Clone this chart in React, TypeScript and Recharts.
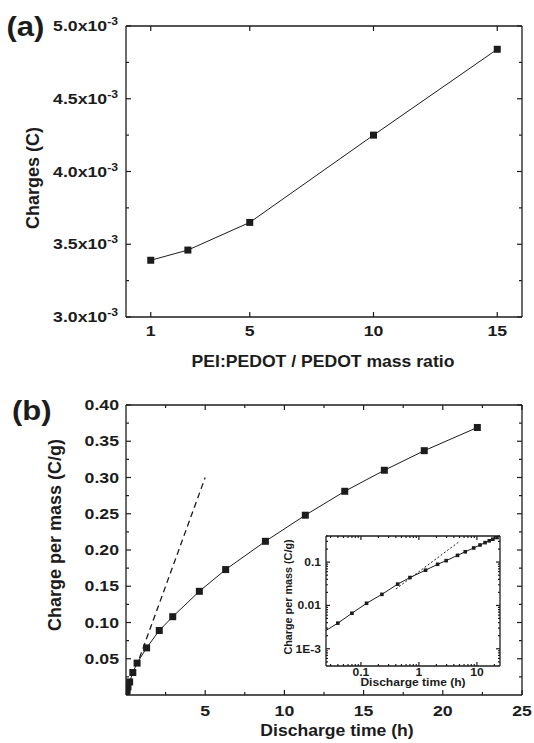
import React from 'react';
import { LineChart, Line, XAxis, YAxis } from 'recharts';

// ---------- data ----------
const ratioA = [1, 2.5, 5, 10, 15];
const chargeA = [3.39e-3, 3.46e-3, 3.65e-3, 4.25e-3, 4.84e-3];

const timeB = [0.04, 0.07, 0.125, 0.23, 0.43, 0.7, 1.3, 2.1, 2.95, 4.63, 6.29, 8.8, 11.32, 13.81, 16.31, 18.83, 22.18];
const chargeB = [0.0039, 0.0066, 0.0112, 0.018, 0.031, 0.044, 0.065, 0.089, 0.108, 0.143, 0.173, 0.212, 0.248, 0.281, 0.31, 0.337, 0.369];

const slopeT = [0.85, 5.0];
const slopeQ = [0.051, 0.3];

const insetSlopeT = [0.4, 5.0];
const insetSlopeQ = [0.024, 0.3];
const insetLeadT = [0.025, 0.04];
const insetLeadQ = [0.00265, 0.0039];

const ticksAX = [1, 5, 10, 15];
const ticksAYMajor = [3.0e-3, 3.5e-3, 4.0e-3, 4.5e-3, 5.0e-3];
const ticksAYMinor = [3.25e-3, 3.75e-3, 4.25e-3, 4.75e-3];

const ticksBXMajor = [5, 10, 15, 20, 25];
const ticksBXMinor = [2.5, 7.5, 12.5, 17.5, 22.5];
const ticksBYMajor = [0.05, 0.1, 0.15, 0.2, 0.25, 0.3, 0.35, 0.4];
const ticksBYMinor = [0.025, 0.075, 0.125, 0.175, 0.225, 0.275, 0.325, 0.375];

const ticksIXMajor = [0.1, 1, 10];
const ticksIXMinor = [0.03, 0.04, 0.05, 0.06, 0.07, 0.08, 0.09, 0.2, 0.3, 0.4, 0.5, 0.6, 0.7, 0.8, 0.9, 2, 3, 4, 5, 6, 7, 8, 9, 20];
const ticksIYMajor = [0.001, 0.01, 0.1];
const ticksIYMinor = [0.0005, 0.0006, 0.0007, 0.0008, 0.0009, 0.002, 0.003, 0.004, 0.005, 0.006, 0.007, 0.008, 0.009, 0.02, 0.03, 0.04, 0.05, 0.06, 0.07, 0.08, 0.09, 0.2, 0.3, 0.4];

const seriesA = ratioA.map((x, i) => ({ x, q: chargeA[i] }));
const seriesB = timeB.map((x, i) => ({ x, q: chargeB[i] }));
const slopeB = slopeT.map((x, i) => ({ x, q: slopeQ[i] }));
const insetSlope = insetSlopeT.map((x, i) => ({ x, q: insetSlopeQ[i] }));
const insetLead = insetLeadT.map((x, i) => ({ x, q: insetLeadQ[i] }));

// ---------- styling helpers ----------
const FONT = "'Liberation Sans', Arial, Helvetica, sans-serif";
const INK = '#1c1c1c';

const near = (a: number, b: number) => Math.abs(a - b) <= Math.max(Math.abs(a), Math.abs(b)) * 1e-6 + 1e-15;
const merge = (a: number[], b: number[]) => [...a, ...b].sort((p, q) => p - q);

type Side = 'bottom' | 'top' | 'left' | 'right';
interface TickOpts {
  side: Side;
  majors: number[];
  major: number;
  minor: number;
  label?: (v: number) => React.ReactNode;
  size?: number;
  sx?: number;
  gap?: number;
}

function makeTick(o: TickOpts) {
  return (props: any) => {
    const { x, y, payload } = props;
    const v = Number(payload.value);
    const isMajor = o.majors.some((m) => near(m, v));
    const L = isMajor ? o.major : o.minor;
    let x2 = x;
    let y2 = y;
    if (o.side === 'bottom') y2 = y - L;
    else if (o.side === 'top') y2 = y + L;
    else if (o.side === 'left') x2 = x + L;
    else x2 = x - L;
    let text: React.ReactNode = null;
    if (isMajor && o.label) {
      const s = o.size ?? 14;
      const sx = o.sx ?? 1;
      const gap = o.gap ?? 6;
      if (o.side === 'bottom') {
        text = (
          <text transform={`translate(${x},${y + gap}) scale(${sx},1)`} textAnchor="middle" fontSize={s} fontWeight="bold" fontFamily={FONT} fill={INK}>
            {o.label(v)}
          </text>
        );
      } else if (o.side === 'left') {
        text = (
          <text transform={`translate(${x - gap},${y + s * 0.36}) scale(${sx},1)`} textAnchor="end" fontSize={s} fontWeight="bold" fontFamily={FONT} fill={INK}>
            {o.label(v)}
          </text>
        );
      }
    }
    return (
      <g>
        <line x1={x} y1={y} x2={x2} y2={y2} stroke={INK} strokeWidth={1.2} />
        {text}
      </g>
    );
  };
}

const square = (s: number) => (p: any) => (
  <rect key={`sq-${s}-${p.index}`} x={p.cx - s / 2} y={p.cy - s / 2} width={s} height={s} fill={INK} />
);

const axisBase = {
  type: 'number' as const,
  dataKey: 'x',
  tickLine: false,
  tickSize: 0,
  tickMargin: 0,
  interval: 0 as const,
  allowDataOverflow: true,
  axisLine: { stroke: INK, strokeWidth: 1.3 },
};

const ST = ({ x, y, size, sx = 1, anchor = 'middle', rotate = 0, children }: any) => (
  <text
    transform={`translate(${x},${y})${rotate ? ` rotate(${rotate})` : ''} scale(${sx},1)`}
    textAnchor={anchor}
    fontSize={size}
    fontWeight="bold"
    fontFamily={FONT}
    fill={INK}
  >
    {children}
  </text>
);

const TS = 14.5; // tick font size
const TSX = 1.22; // tick horizontal stretch

const fmtA = (v: number) => (
  <>
    {(v * 1000).toFixed(1)}x10
    <tspan dy={-6} fontSize={10}>-3</tspan>
  </>
);
const fmtB = (v: number) => v.toFixed(2);
const fmtBX = (v: number) => String(v);
const fmtIY = (v: number) => (near(v, 0.001) ? '1E-3' : String(v));
const fmtIX = (v: number) => String(v);

export default function App() {
  return (
    <div style={{ position: 'absolute', left: 0, top: 0, width: 534, height: 743, background: '#fff', overflow: 'hidden' }}>
      {/* Chart (a) */}
      <div style={{ position: 'absolute', left: 0, top: 0 }}>
        <LineChart width={534} height={370} margin={{ top: 25, right: 11, bottom: 0, left: 0 }}>
          <XAxis
            {...axisBase}
            xAxisId="b"
            orientation="bottom"
            height={53}
            domain={[0, 16]}
            ticks={ticksAX}
            tick={makeTick({ side: 'bottom', majors: ticksAX, major: 5, minor: 3, label: fmtBX, size: TS, sx: TSX, gap: 19 })}
          />
          <XAxis
            {...axisBase}
            xAxisId="t"
            orientation="top"
            height={1}
            domain={[0, 16]}
            ticks={ticksAX}
            tick={makeTick({ side: 'top', majors: ticksAX, major: 5, minor: 3 })}
          />
          <YAxis
            {...axisBase}
            dataKey={undefined}
            yAxisId="l"
            orientation="left"
            width={126}
            domain={[3.0e-3, 5.0e-3]}
            ticks={merge(ticksAYMajor, ticksAYMinor)}
            tick={makeTick({ side: 'left', majors: ticksAYMajor, major: 5, minor: 3, label: fmtA, size: TS, sx: TSX, gap: 8 })}
          />
          <YAxis
            {...axisBase}
            dataKey={undefined}
            yAxisId="r"
            orientation="right"
            width={1}
            domain={[3.0e-3, 5.0e-3]}
            ticks={merge(ticksAYMajor, ticksAYMinor)}
            tick={makeTick({ side: 'right', majors: ticksAYMajor, major: 5, minor: 3 })}
          />
          <Line data={seriesA} dataKey="q" xAxisId="t" yAxisId="r" stroke="none" dot={false} activeDot={false} legendType="none" isAnimationActive={false} />
          <Line
            data={seriesA}
            dataKey="q"
            xAxisId="b"
            yAxisId="l"
            stroke={INK}
            strokeWidth={1}
            dot={square(7)}
            activeDot={false}
            isAnimationActive={false}
          />
        </LineChart>
      </div>

      {/* Chart (b) */}
      <div style={{ position: 'absolute', left: 0, top: 370 }}>
        <LineChart width={534} height={373} margin={{ top: 34, right: 11, bottom: 0, left: 0 }}>
          <XAxis
            {...axisBase}
            xAxisId="b"
            orientation="bottom"
            height={48}
            domain={[0, 25]}
            ticks={merge(ticksBXMajor, ticksBXMinor)}
            tick={makeTick({ side: 'bottom', majors: ticksBXMajor, major: 5, minor: 3, label: fmtBX, size: TS, sx: TSX, gap: 21 })}
          />
          <XAxis
            {...axisBase}
            xAxisId="t"
            orientation="top"
            height={1}
            domain={[0, 25]}
            ticks={merge(ticksBXMajor, ticksBXMinor)}
            tick={makeTick({ side: 'top', majors: ticksBXMajor, major: 5, minor: 3 })}
          />
          <YAxis
            {...axisBase}
            dataKey={undefined}
            yAxisId="l"
            orientation="left"
            width={126}
            domain={[0, 0.4]}
            ticks={merge(ticksBYMajor, ticksBYMinor)}
            tick={makeTick({ side: 'left', majors: ticksBYMajor, major: 5, minor: 3, label: fmtB, size: TS, sx: TSX, gap: 7 })}
          />
          <YAxis
            {...axisBase}
            dataKey={undefined}
            yAxisId="r"
            orientation="right"
            width={1}
            domain={[0, 0.4]}
            ticks={merge(ticksBYMajor, ticksBYMinor)}
            tick={makeTick({ side: 'right', majors: ticksBYMajor, major: 5, minor: 3 })}
          />
          <Line data={seriesB} dataKey="q" xAxisId="t" yAxisId="r" stroke="none" dot={false} activeDot={false} legendType="none" isAnimationActive={false} />
          <Line
            data={slopeB}
            dataKey="q"
            xAxisId="b"
            yAxisId="l"
            stroke={INK}
            strokeWidth={1.3}
            strokeDasharray="6 4"
            dot={false}
            activeDot={false}
            isAnimationActive={false}
          />
          <Line
            data={seriesB}
            dataKey="q"
            xAxisId="b"
            yAxisId="l"
            stroke={INK}
            strokeWidth={1}
            dot={square(7)}
            activeDot={false}
            isAnimationActive={false}
          />
        </LineChart>
      </div>

      {/* Inset */}
      <div style={{ position: 'absolute', left: 270, top: 520 }}>
        <LineChart width={240} height={175} margin={{ top: 15, right: 9, bottom: 0, left: 0 }}>
          <XAxis
            {...axisBase}
            xAxisId="b"
            orientation="bottom"
            scale="log"
            height={29}
            domain={[0.025, 25]}
            ticks={merge(ticksIXMajor, ticksIXMinor)}
            tick={makeTick({ side: 'bottom', majors: ticksIXMajor, major: 4, minor: 2, label: fmtIX, size: 10.5, sx: 1.15, gap: 10 })}
          />
          <XAxis
            {...axisBase}
            xAxisId="t"
            orientation="top"
            scale="log"
            height={1}
            domain={[0.025, 25]}
            ticks={merge(ticksIXMajor, ticksIXMinor)}
            tick={makeTick({ side: 'top', majors: ticksIXMajor, major: 4, minor: 2 })}
          />
          <YAxis
            {...axisBase}
            dataKey={undefined}
            yAxisId="l"
            orientation="left"
            scale="log"
            width={56}
            domain={[0.0004, 0.4]}
            ticks={merge(ticksIYMajor, ticksIYMinor)}
            tick={makeTick({ side: 'left', majors: ticksIYMajor, major: 4, minor: 2, label: fmtIY, size: 10.5, sx: 1.15, gap: 5 })}
          />
          <YAxis
            {...axisBase}
            dataKey={undefined}
            yAxisId="r"
            orientation="right"
            scale="log"
            width={1}
            domain={[0.0004, 0.4]}
            ticks={merge(ticksIYMajor, ticksIYMinor)}
            tick={makeTick({ side: 'right', majors: ticksIYMajor, major: 4, minor: 2 })}
          />
          <Line data={seriesB} dataKey="q" xAxisId="t" yAxisId="r" stroke="none" dot={false} activeDot={false} legendType="none" isAnimationActive={false} />
          <Line
            data={insetSlope}
            dataKey="q"
            xAxisId="b"
            yAxisId="l"
            stroke={INK}
            strokeWidth={1}
            strokeDasharray="2 2"
            dot={false}
            activeDot={false}
            isAnimationActive={false}
          />
          <Line
            data={insetLead}
            dataKey="q"
            xAxisId="b"
            yAxisId="l"
            stroke={INK}
            strokeWidth={1}
            dot={false}
            activeDot={false}
            isAnimationActive={false}
          />
          <Line
            data={seriesB}
            dataKey="q"
            xAxisId="b"
            yAxisId="l"
            stroke={INK}
            strokeWidth={1}
            dot={square(3.6)}
            activeDot={false}
            isAnimationActive={false}
          />
        </LineChart>
      </div>

      {/* Titles and panel letters */}
      <svg width={534} height={743} style={{ position: 'absolute', left: 0, top: 0, pointerEvents: 'none' }}>
        <ST x={6.5} y={36} size={27} sx={1.15} anchor="start">(a)</ST>
        <ST x={12} y={420} size={27} sx={1.15} anchor="start">(b)</ST>
        <ST x={39} y={178} size={18} rotate={-90}>Charges (C)</ST>
        <ST x={323} y={367} size={16} sx={1.1}>PEI:PEDOT / PEDOT mass ratio</ST>
        <ST x={61} y={535} size={18} rotate={-90}>Charge per mass (C/g)</ST>
        <ST x={337} y={736} size={16} sx={1.1}>Discharge time (h)</ST>
        <ST x={291.5} y={597} size={10.8} rotate={-90}>Charge per mass (C/g)</ST>
        <ST x={413} y={686} size={10.5} sx={1.15}>Discharge time (h)</ST>
      </svg>
    </div>
  );
}
